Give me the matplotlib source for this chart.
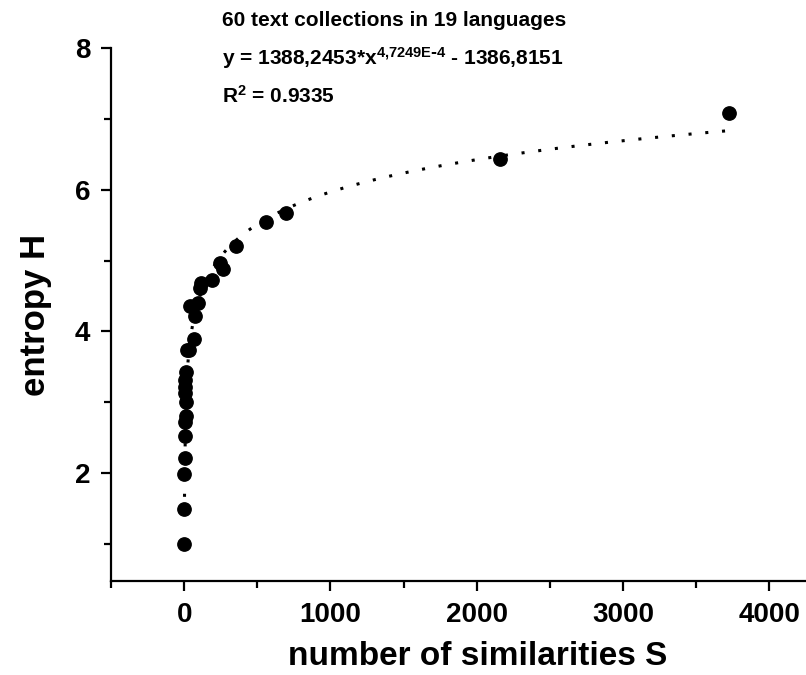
import matplotlib
matplotlib.use('Agg')
import matplotlib.pyplot as plt
import numpy as np
from matplotlib.ticker import MultipleLocator

# data
s_vals = [0, 0, 0, 3, 5, 8, 10, 12, 6, 4, 9, 14, 20, 30, 65, 75, 41, 95,
          109, 116, 191, 246, 266, 355, 559, 696, 2156, 3724]
h_vals = [1.0, 1.5, 1.99, 2.22, 2.52, 2.72, 2.81, 3.01, 3.13, 3.22, 3.32, 3.43,
          3.74, 3.74, 3.90, 4.22, 4.36, 4.40, 4.61, 4.68, 4.73, 4.97, 4.88,
          5.20, 5.54, 5.67, 6.43, 7.08]

# fit reported in the chart
fit_a = 1388.2453
fit_b = 4.7249e-4
fit_c = 1386.8151

title_lines = ['60 text collections in 19 languages',
               r'y = 1388,2453*x$^{\mathregular{4{,}7249E\text{-}4}}$ - 1386,8151',
               r'R$^{\mathregular{2}}$ = 0.9335']


def main():
    plt.rcParams['font.family'] = ['Liberation Sans', 'DejaVu Sans']
    plt.rcParams['font.weight'] = 'bold'
    plt.rcParams['mathtext.default'] = 'regular'

    fig = plt.figure(figsize=(8.06, 6.75), dpi=100)
    ax = fig.add_axes([0.1377, 0.1393, 1.0 - 0.1377, 0.9289 - 0.1393])

    xs = np.linspace(1, max(s_vals), 400)
    ys = fit_a * xs ** fit_b - fit_c
    ax.plot(xs, ys, c='k', lw=2.2, linestyle=(0, (1, 4.5)))
    ax.plot(s_vals, h_vals, 'o', c='k', ms=9.6, zorder=3)

    ax.set_xlim(-500, 4250)
    ax.set_ylim(0.48, 8)
    ax.xaxis.set_major_locator(MultipleLocator(1000))
    ax.xaxis.set_minor_locator(MultipleLocator(500))
    ax.yaxis.set_major_locator(MultipleLocator(2))
    ax.yaxis.set_minor_locator(MultipleLocator(1))

    for side in ['top', 'right']:
        ax.spines[side].set_visible(False)
    for side in ['left', 'bottom']:
        ax.spines[side].set_linewidth(1.6)
    ax.tick_params(which='major', direction='out', length=7, width=1.6,
                   labelsize=20, pad=8)
    ax.tick_params(which='minor', direction='out', length=5, width=1.6)
    for lab in ax.get_xticklabels() + ax.get_yticklabels():
        lab.set_fontweight('bold')

    ax.set_xlabel('number of similarities S', fontsize=24, fontweight='bold')
    ax.xaxis.set_label_coords(0.528, -0.113)
    ax.set_ylabel('entropy H', fontsize=25, fontweight='bold', labelpad=16)

    for i, t in enumerate(title_lines):
        fig.text(222 / 806, 1 - (20 + 38 * i) / 675, t, fontsize=15,
                 fontweight='bold', va='center', ha='left')

    fig.savefig('out.png', dpi=100)


if __name__ == "__main__":
    main()
